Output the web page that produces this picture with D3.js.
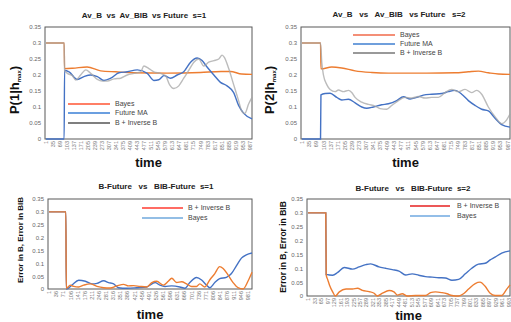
<!DOCTYPE html>
<html>
<head>
<meta charset="utf-8">
<script src="https://cdn.jsdelivr.net/npm/d3@7"></script>
<style>
  body { margin: 0; background: #fff; }
  text { font-family: "Liberation Sans", Arial, sans-serif; }
</style>
</head>
<body>
<svg id="chart" width="511" height="322"></svg>
<script>
// Data: [time, value] samples
const s1Bayes = [[1,0.3],[89,0.3],[91,0.22],[130,0.221],[200,0.225],[266,0.213],[340,0.21],[427,0.207],[589,0.206],[750,0.208],[850,0.211],[895,0.211],[950,0.203],[1000,0.202]]
const s1FutureMA = [[1,0],[89,0],[91,0.215],[113,0.21],[153,0.186],[185,0.195],[218,0.2],[250,0.195],[282,0.183],[315,0.19],[355,0.207],[395,0.21],[444,0.216],[492,0.205],[524,0.183],[548,0.185],[573,0.198],[605,0.19],[637,0.2],[669,0.21],[702,0.24],[734,0.253],[758,0.245],[782,0.225],[815,0.2],[847,0.177],[879,0.166],[911,0.145],[935,0.105],[960,0.08],[1000,0.063]]
const s1InverseB = [[1,0.3],[89,0.3],[91,0.215],[105,0.205],[129,0.198],[145,0.184],[169,0.2],[194,0.216],[218,0.205],[250,0.186],[274,0.181],[298,0.181],[331,0.188],[363,0.19],[395,0.2],[427,0.205],[460,0.21],[476,0.228],[500,0.22],[524,0.21],[556,0.205],[581,0.198],[600,0.17],[621,0.158],[645,0.166],[669,0.19],[694,0.215],[718,0.24],[742,0.25],[766,0.228],[790,0.24],[815,0.245],[839,0.25],[855,0.262],[866,0.255],[887,0.22],[911,0.17],[935,0.12],[952,0.085],[965,0.08],[984,0.11],[1000,0.13]]

const s2Bayes = [[1,0.3],[90,0.3],[92,0.219],[144,0.225],[192,0.222],[256,0.213],[336,0.208],[416,0.206],[600,0.206],[736,0.207],[800,0.21],[848,0.212],[896,0.207],[944,0.203],[1000,0.202]]
const s2FutureMA = [[1,0],[90,0],[92,0.138],[112,0.142],[136,0.143],[168,0.13],[192,0.122],[224,0.124],[256,0.113],[288,0.1],[312,0.096],[344,0.1],[384,0.107],[416,0.11],[456,0.12],[488,0.132],[520,0.125],[552,0.13],[584,0.137],[624,0.14],[672,0.142],[704,0.148],[736,0.152],[768,0.14],[800,0.12],[832,0.105],[864,0.093],[896,0.088],[928,0.065],[960,0.045],[1000,0.037]]
const s2InverseB = [[1,0.3],[90,0.3],[96,0.24],[104,0.2],[120,0.17],[136,0.155],[160,0.148],[176,0.153],[200,0.148],[224,0.152],[240,0.145],[256,0.13],[288,0.115],[320,0.108],[352,0.103],[376,0.095],[408,0.093],[432,0.105],[464,0.12],[496,0.13],[528,0.128],[560,0.133],[592,0.128],[624,0.13],[656,0.13],[688,0.145],[720,0.155],[752,0.148],[784,0.155],[816,0.145],[840,0.152],[864,0.14],[896,0.1],[928,0.07],[960,0.048],[984,0.06],[1000,0.078]]

const e1InverseB = [[1,0.3],[84,0.3],[86,0.003],[106,0.015],[123,0.01],[147,0.008],[172,0.015],[204,0.02],[237,0.01],[270,0.005],[302,0.004],[335,0.012],[368,0.018],[392,0.012],[417,0.013],[449,0.01],[482,0.008],[507,0.025],[531,0.03],[564,0.015],[588,0.03],[605,0.042],[629,0.025],[654,0.028],[678,0.02],[703,0.01],[727,0.01],[743,0.02],[768,0.008],[792,0.035],[817,0.06],[841,0.087],[858,0.08],[882,0.055],[907,0.025],[931,0.005],[956,0.0],[980,0.03],[1000,0.065]]
const e1Bayes = [[1,0.3],[84,0.3],[86,0.0],[114,0.015],[147,0.034],[180,0.03],[212,0.02],[237,0.022],[270,0.032],[294,0.025],[319,0.02],[343,0.005],[384,0.003],[433,0.005],[482,0.008],[523,0.025],[547,0.015],[572,0.01],[605,0.012],[645,0.008],[670,0.003],[694,0.025],[727,0.045],[752,0.035],[776,0.015],[792,0.005],[817,0.025],[841,0.04],[874,0.045],[899,0.06],[923,0.09],[948,0.12],[972,0.133],[1000,0.14]]

const e2InverseB = [[1,0.3],[89,0.3],[91,0.075],[98,0.06],[107,0.04],[123,0.015],[136,0.0],[156,0.015],[189,0.025],[221,0.025],[246,0.028],[270,0.02],[303,0.016],[328,0.01],[344,0.0],[369,0.01],[402,0.02],[426,0.015],[443,0.003],[467,0.008],[492,0.0],[533,0.002],[582,0.002],[607,0.012],[631,0.015],[664,0.012],[689,0.008],[713,0.002],[746,0.0],[770,0.008],[795,0.025],[828,0.045],[852,0.05],[877,0.035],[902,0.01],[926,0.002],[959,0.002],[984,0.025],[1000,0.04]]
const e2Bayes = [[1,0.3],[89,0.3],[91,0.078],[123,0.075],[148,0.085],[180,0.103],[221,0.097],[254,0.105],[287,0.113],[311,0.116],[352,0.105],[385,0.1],[418,0.095],[451,0.09],[484,0.076],[516,0.08],[549,0.075],[582,0.07],[615,0.068],[648,0.066],[680,0.065],[713,0.057],[746,0.06],[779,0.08],[811,0.1],[844,0.115],[877,0.118],[902,0.13],[926,0.14],[959,0.155],[1000,0.163]]

// Tick labels
const yTicks = [0, 0.05, 0.1, 0.15, 0.2, 0.25, 0.3, 0.35]
const xTicks34 = d3.range(1, 1000, 34)
const xTicks35 = d3.range(1, 1000, 35)
const xTicks32 = d3.range(1, 1000, 32)

const ORANGE = "#ed7d31", BLUE = "#4472c4", GRAY = "#a5a5a5"

const panels = [
  {
    box: [45, 27, 252, 139], ticks: xTicks34,
    title: "Av_B  vs  Av_BIB  vs Future  s=1", titleX: 144, titleY: 18,
    ylab: { kind: "p", n: "1", x: 19, y: 90 },
    timeY: 167,
    series: [
      { data: s1Bayes, color: ORANGE },
      { data: s1FutureMA, color: BLUE },
      { data: s1InverseB, color: GRAY, opacity: 0.75 }
    ],
    legend: { x1: 68, x2: 110, tx: 115, ys: [104, 113, 123],
      items: [["Bayes", "#ff5533"], ["Future MA", "#3a7fd6"], ["B + Inverse B", "#555555"]] }
  },
  {
    box: [301, 27, 510, 139], ticks: xTicks34,
    title: "Av_B   vs   Av_BIB   vs Future   s=2", titleX: 399, titleY: 17,
    ylab: { kind: "p", n: "2", x: 274, y: 90 },
    timeY: 167,
    series: [
      { data: s2Bayes, color: ORANGE },
      { data: s2FutureMA, color: BLUE },
      { data: s2InverseB, color: GRAY, opacity: 0.75 }
    ],
    legend: { x1: 353, x2: 395, tx: 400, ys: [35, 44, 53],
      items: [["Bayes", "#f06a4a"], ["Future MA", "#3f7fd0"], ["B + Inverse B", "#777777"]] }
  },
  {
    box: [48, 199, 252, 289], ticks: xTicks35,
    title: "B-Future   vs   BIB-Future  s=1", titleX: 156, titleY: 189,
    ylab: { kind: "e", x: 23, y: 240, size: 8 },
    timeY: 319,
    series: [
      { data: e1Bayes, color: BLUE },
      { data: e1InverseB, color: ORANGE }
    ],
    legend: { x1: 142, x2: 183, tx: 188, ys: [208, 218],
      items: [["B + Inverse B", "#ff3b30"], ["Bayes", "#6fa8dc"]] }
  },
  {
    box: [307, 199, 510, 296], ticks: xTicks32,
    title: "B-Future   vs   BIB-Future  s=2", titleX: 413, titleY: 191,
    ylab: { kind: "e", x: 286, y: 247, size: 8.5 },
    timeY: 320,
    series: [
      { data: e2Bayes, color: BLUE },
      { data: e2InverseB, color: ORANGE }
    ],
    legend: { x1: 410, x2: 450, tx: 457, ys: [206, 216],
      items: [["B + Inverse B", "#e62020"], ["Bayes", "#6fa8e0"]] }
  }
]

const svg = d3.select("#chart")

panels.forEach(p => {
  const [x0, y0, x1, y1] = p.box
  const x = d3.scaleLinear().domain([1, 1000]).range([x0 + 1, x1])
  const y = d3.scaleLinear().domain([0, 0.35]).range([y1, y0])
  const g = svg.append("g")

  // plot border
  g.append("rect")
    .attr("x", x0).attr("y", y0)
    .attr("width", x1 - x0).attr("height", y1 - y0)
    .attr("fill", "none").attr("stroke", "#595959").attr("stroke-width", 1)

  // y axis labels
  g.append("g")
    .attr("transform", `translate(${x0},0)`)
    .call(d3.axisLeft(y).tickValues(yTicks).tickSize(0).tickPadding(4).tickFormat(d3.format("~g")))
    .call(a => a.select(".domain").remove())
    .call(a => a.selectAll("text").attr("font-size", 6).attr("fill", "#666"))

  // x axis labels
  g.append("g")
    .attr("transform", `translate(0,${y1})`)
    .call(d3.axisBottom(x).tickValues(p.ticks).tickSize(0).tickFormat(d => d))
    .call(a => a.select(".domain").remove())
    .call(a => a.selectAll("text")
      .attr("font-size", 5.5).attr("fill", "#777")
      .attr("transform", "rotate(-90)")
      .attr("text-anchor", "end")
      .attr("x", -2).attr("y", 0).attr("dy", "0.32em"))

  // lines
  const line = d3.line().x(d => x(d[0])).y(d => y(d[1])).curve(d3.curveMonotoneX)
  p.series.forEach(s => {
    g.append("path")
      .attr("d", line(s.data))
      .attr("fill", "none")
      .attr("stroke", s.color)
      .attr("stroke-opacity", s.opacity || 1)
      .attr("stroke-width", 1.4)
  })

  // title
  g.append("text")
    .attr("x", p.titleX).attr("y", p.titleY)
    .attr("text-anchor", "middle")
    .attr("font-size", 8).attr("font-weight", "bold").attr("fill", "#222")
    .attr("xml:space", "preserve")
    .text(p.title)

  // y label
  if (p.ylab.kind === "p") {
    const t = g.append("text")
      .attr("transform", `translate(${p.ylab.x},${p.ylab.y}) rotate(-90)`)
      .attr("text-anchor", "middle")
      .attr("font-size", 13).attr("font-weight", "bold").attr("fill", "#111")
    t.append("tspan").text(`P(${p.ylab.n}|h`)
    t.append("tspan").attr("font-size", 6).attr("dy", 2).text("max")
    t.append("tspan").attr("dy", -2).text(")")
  } else {
    g.append("text")
      .attr("transform", `translate(${p.ylab.x},${p.ylab.y}) rotate(-90)`)
      .attr("text-anchor", "middle")
      .attr("font-size", p.ylab.size).attr("font-weight", "bold").attr("fill", "#111")
      .text("Error in B,  Error in BIB")
  }

  // x title
  g.append("text")
    .attr("x", (x0 + x1) / 2).attr("y", p.timeY)
    .attr("text-anchor", "middle")
    .attr("font-size", 13).attr("font-weight", "bold").attr("fill", "#111")
    .text("time")

  // legend
  const L = p.legend
  L.items.forEach(([name, c], i) => {
    g.append("line")
      .attr("x1", L.x1).attr("x2", L.x2)
      .attr("y1", L.ys[i]).attr("y2", L.ys[i])
      .attr("stroke", c).attr("stroke-width", 1.4)
    g.append("text")
      .attr("x", L.tx).attr("y", L.ys[i]).attr("dy", "0.35em")
      .attr("font-size", 7).attr("fill", "#444")
      .text(name)
  })
})
</script>
</body>
</html>
